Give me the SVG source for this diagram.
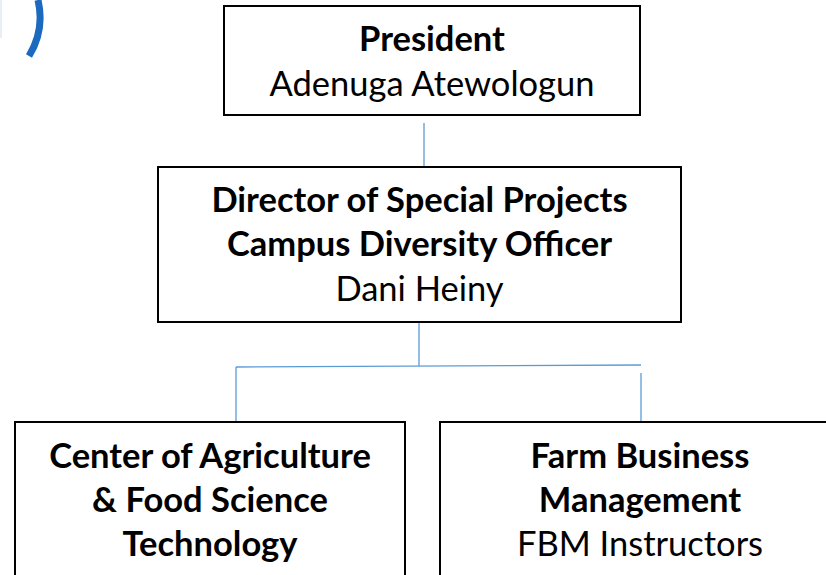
<svg xmlns="http://www.w3.org/2000/svg" width="826" height="575" viewBox="0 0 826 575">
<style>
.box{fill:#fff;stroke:#000;stroke-width:2}
.c{stroke:#5b9bd5;stroke-width:1.3;fill:none}
text{font-family:Lato,"Liberation Sans",sans-serif;font-size:34.5px;fill:#000;text-anchor:middle}
.b{font-weight:bold}
</style>
<rect x="0" y="0" width="826" height="575" fill="#fff"/>
<rect x="0" y="0" width="2" height="38" fill="#e8eef6"/>
<path d="M38,0 Q45,30 29,56" fill="none" stroke="#1b6ac0" stroke-width="7"/>
<g id="connectors">
<line class="c" x1="424" y1="123" x2="424" y2="167"/>
<line class="c" x1="419" y1="322" x2="419" y2="366"/>
<line class="c" x1="236" y1="367" x2="641" y2="365"/>
<line class="c" x1="236" y1="367" x2="236" y2="422"/>
<line class="c" x1="641" y1="373" x2="641" y2="422"/>
</g>
<g id="president">
<rect class="box" x="224" y="6" width="416" height="109"/>
<text class="b" x="432" y="51">President</text>
<text x="432" y="96">Adenuga Atewologun</text>
</g>
<g id="director">
<rect class="box" x="158" y="167" width="523" height="155"/>
<text class="b" x="419.5" y="212">Director of Special Projects</text>
<text class="b" x="419.5" y="256">Campus Diversity Officer</text>
<text x="419.5" y="301">Dani Heiny</text>
</g>
<g id="agriculture">
<rect class="box" x="15" y="422" width="390" height="170"/>
<text class="b" x="210" y="468">Center of Agriculture</text>
<text class="b" x="210" y="512">&amp; Food Science</text>
<text class="b" x="210" y="556">Technology</text>
</g>
<g id="fbm">
<rect class="box" x="440" y="422" width="400" height="170"/>
<text class="b" x="640" y="468">Farm Business</text>
<text class="b" x="640" y="512">Management</text>
<text x="640" y="556">FBM Instructors</text>
</g>
</svg>
